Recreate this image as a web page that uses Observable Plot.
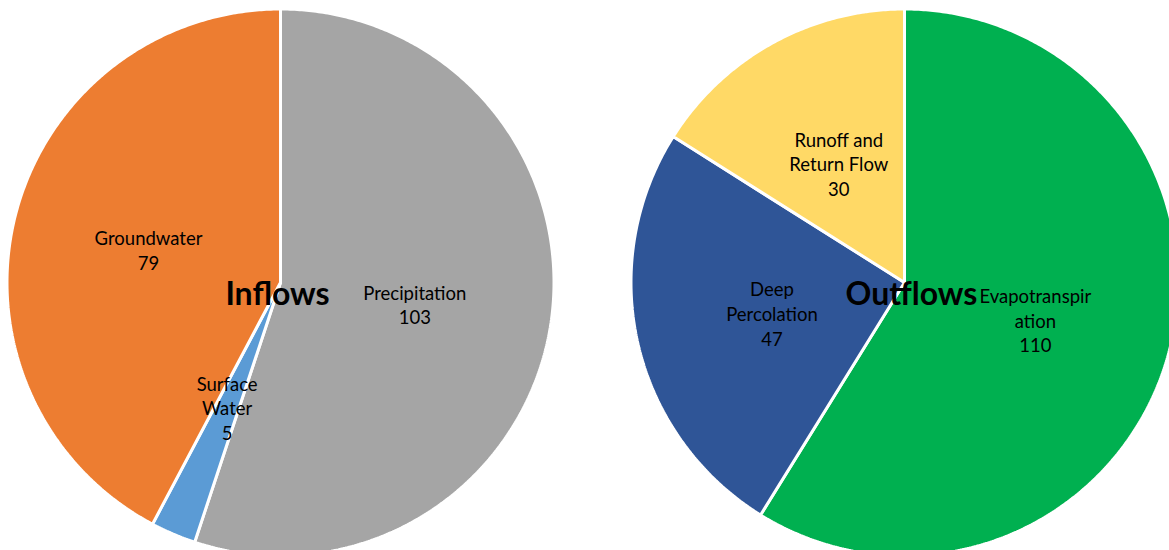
<!DOCTYPE html>
<html>
<head>
<meta charset="utf-8">
<script src="https://cdn.jsdelivr.net/npm/d3@7"></script>
<script src="https://cdn.jsdelivr.net/npm/@observablehq/plot@0.6"></script>
<style>
  html, body { margin: 0; padding: 0; background: #fff; overflow: hidden; }
  #chart svg { display: block; overflow: hidden; }
</style>
</head>
<body>
<div id="chart"></div>
<script>
// ---- data ----
const inflowLabels = ["Precipitation", "Surface\nWater", "Groundwater"];
const inflowKeys = ["Precipitation", "Surface Water", "Groundwater"];
const inflowValues = [103, 5, 79];
const inflowColors = ["#A5A5A5", "#5B9BD5", "#ED7D31"];

const outflowLabels = ["Evapotranspir\nation", "Deep\nPercolation", "Runoff and\nReturn Flow"];
const outflowKeys = ["Evapotranspiration", "Deep Percolation", "Runoff and Return Flow"];
const outflowValues = [110, 47, 30];
const outflowColors = ["#00B050", "#2F5597", "#FFD966"];

const pieTitles = ["Inflows", "Outflows"];

// ---- layout ----
const W = 1169, H = 550;
const R = 273.5;
const pies = [
  {title: pieTitles[0], cx: 280, cy: 282, titleDx: -3, keys: inflowKeys, labels: inflowLabels, values: inflowValues},
  {title: pieTitles[1], cx: 904, cy: 282, titleDx: 7, keys: outflowKeys, labels: outflowLabels, values: outflowValues}
];

const polys = [];
const labelRows = [];
const titleRows = [];
for (const p of pies) {
  const total = d3.sum(p.values);
  let acc = 0;
  p.values.forEach((v, i) => {
    const a0 = acc / total * 2 * Math.PI;
    acc += v;
    const a1 = acc / total * 2 * Math.PI;
    const key = p.keys[i];
    polys.push({key, x: p.cx, y: p.cy});
    const n = Math.max(2, Math.ceil((a1 - a0) / (Math.PI / 360)));
    for (let k = 0; k <= n; k++) {
      const a = a0 + (a1 - a0) * k / n;
      polys.push({key, x: p.cx + R * Math.sin(a), y: p.cy - R * Math.cos(a)});
    }
    const am = (a0 + a1) / 2;
    labelRows.push({
      text: p.labels[i] + "\n" + v,
      x: p.cx + 0.5 * 272 * Math.sin(am),
      y: p.cy - 0.5 * 272 * Math.cos(am)
    });
  });
  titleRows.push({text: p.title, x: p.cx + p.titleDx, y: p.cy + 12});
}

const chart = Plot.plot({
  width: W,
  height: H,
  margin: 0,
  style: {background: "white", fontFamily: "Lato, 'Open Sans', sans-serif"},
  x: {domain: [0, W], axis: null},
  y: {domain: [H, 0], axis: null},
  color: {domain: [...inflowKeys, ...outflowKeys], range: [...inflowColors, ...outflowColors]},
  marks: [
    Plot.line(polys, {
      x: "x", y: "y", z: "key", fill: "key",
      stroke: "white", strokeWidth: 3, strokeLinejoin: "miter",
      curve: "linear-closed"
    }),
    Plot.text(labelRows, {
      x: "x", y: "y", text: "text",
      fontSize: 18.5, lineHeight: 1.33, fill: "black",
      fontFamily: "Lato, sans-serif"
    }),
    Plot.text(titleRows, {
      x: "x", y: "y", text: "text",
      fontSize: 32, fontWeight: "bold", fill: "black",
      fontFamily: "Lato, sans-serif"
    })
  ]
});
document.getElementById("chart").appendChild(chart);
</script>
</body>
</html>
